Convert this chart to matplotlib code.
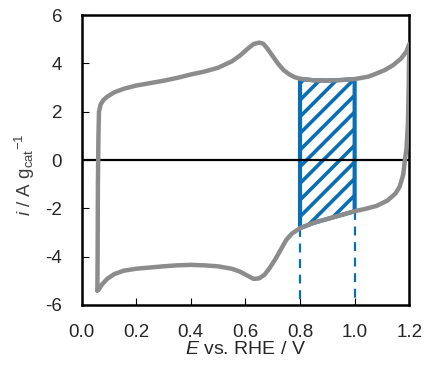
import numpy as np
import matplotlib
matplotlib.use("Agg")
import matplotlib.pyplot as plt

plt.rcParams["font.family"] = ["Liberation Sans", "DejaVu Sans"]
plt.rcParams["mathtext.fontset"] = "custom"
plt.rcParams["mathtext.rm"] = "Liberation Sans"
plt.rcParams["mathtext.it"] = "Liberation Sans:italic"
plt.rcParams["hatch.linewidth"] = 2.6
plt.rcParams["axes.unicode_minus"] = False

GRAY = "#8C8C8C"
BLUE = "#0A6EB4"
TEXT = "#262626"

# Barrido anódico (de 0.058 V a 1.2 V)
E_up = [0.058, 0.059, 0.060, 0.062, 0.064, 0.070, 0.080, 0.094, 0.12, 0.155,
        0.20, 0.25, 0.30, 0.35, 0.40, 0.45, 0.50, 0.55, 0.58, 0.61,
        0.63, 0.65, 0.665, 0.68, 0.70, 0.72, 0.74, 0.76, 0.78, 0.80,
        0.85, 0.90, 0.95, 1.00, 1.05, 1.08, 1.11, 1.14, 1.17, 1.19, 1.20]
i_up = [-5.40, -4.00, -1.00, 1.00, 2.00, 2.30, 2.48, 2.62, 2.80, 2.95,
        3.08, 3.18, 3.28, 3.40, 3.54, 3.66, 3.82, 4.08, 4.32, 4.62,
        4.80, 4.86, 4.82, 4.62, 4.30, 3.98, 3.72, 3.55, 3.43, 3.36,
        3.30, 3.29, 3.31, 3.35, 3.45, 3.58, 3.72, 3.92, 4.20, 4.50, 4.80]

# Barrido catódico (de 1.2 V de vuelta a 0.058 V)
E_down = [1.20, 1.198, 1.195, 1.19, 1.184, 1.178, 1.165, 1.15, 1.12, 1.08,
          1.04, 1.00, 0.95, 0.90, 0.85, 0.80, 0.77, 0.75, 0.73, 0.71,
          0.69, 0.67, 0.65, 0.63, 0.61, 0.58, 0.55, 0.50, 0.45, 0.40,
          0.35, 0.30, 0.25, 0.20, 0.155, 0.12, 0.094, 0.075, 0.064, 0.058]
i_down = [4.80, 3.00, 1.50, 0.50, 0.00, -0.60, -1.10, -1.38, -1.68, -1.90,
          -2.02, -2.12, -2.28, -2.44, -2.60, -2.82, -3.05, -3.30, -3.70, -4.10,
          -4.45, -4.75, -4.90, -4.92, -4.80, -4.62, -4.50, -4.40, -4.36, -4.34,
          -4.36, -4.40, -4.45, -4.50, -4.58, -4.72, -4.92, -5.15, -5.35, -5.40]

# Ventana de integración (doble capa)
window = [0.80, 1.00]

xticks = [0.0, 0.2, 0.4, 0.6, 0.8, 1.0, 1.2]
yticks = [-6, -4, -2, 0, 2, 4, 6]

fig = plt.figure(figsize=(4.29, 3.67), dpi=100)
ax = fig.add_axes([0.190, 0.169, 0.764, 0.790])

E_up_a = np.array(E_up)
E_down_a = np.array(E_down)
sel = (E_down_a >= window[0]) & (E_down_a <= window[1])
E_win = E_down_a[sel][::-1]
bot = np.array(i_down)[sel][::-1]
top = np.interp(E_win, E_up_a, i_up)

ax.fill_between(E_win, bot, top, facecolor="white", edgecolor=BLUE,
                hatch="//", linewidth=3.0, zorder=2)
for e in window:
    ax.plot([e, e], [np.interp(e, E_win, bot), -6], color=BLUE, lw=1.6,
            ls=(0, (4, 3)), zorder=2)

ax.axhline(0, color="black", lw=1.6, zorder=3)
ax.plot(E_up + E_down, i_up + i_down, color=GRAY, lw=3.2,
        solid_joinstyle="round", solid_capstyle="round", zorder=4)

ax.set_xlim(0, 1.2)
ax.set_ylim(-6, 6)
ax.set_xticks(xticks)
ax.set_xticklabels([f"{t:.1f}" for t in xticks])
ax.set_yticks(yticks)
ax.tick_params(direction="in", length=5, width=0.8, labelsize=13.5,
               labelcolor=TEXT, pad=14)
for s in ax.spines.values():
    s.set_linewidth(1.8)

ax.set_xlabel(r"$E$ vs. RHE / V", fontsize=14, color=TEXT, labelpad=0)
ax.set_ylabel(r"$i$ / A g$_{\mathrm{cat}}$$^{-1}$", fontsize=13.5,
              color="#404040")
ax.yaxis.set_label_coords(-0.135, 0.45)

fig.savefig("out.png", dpi=100)
